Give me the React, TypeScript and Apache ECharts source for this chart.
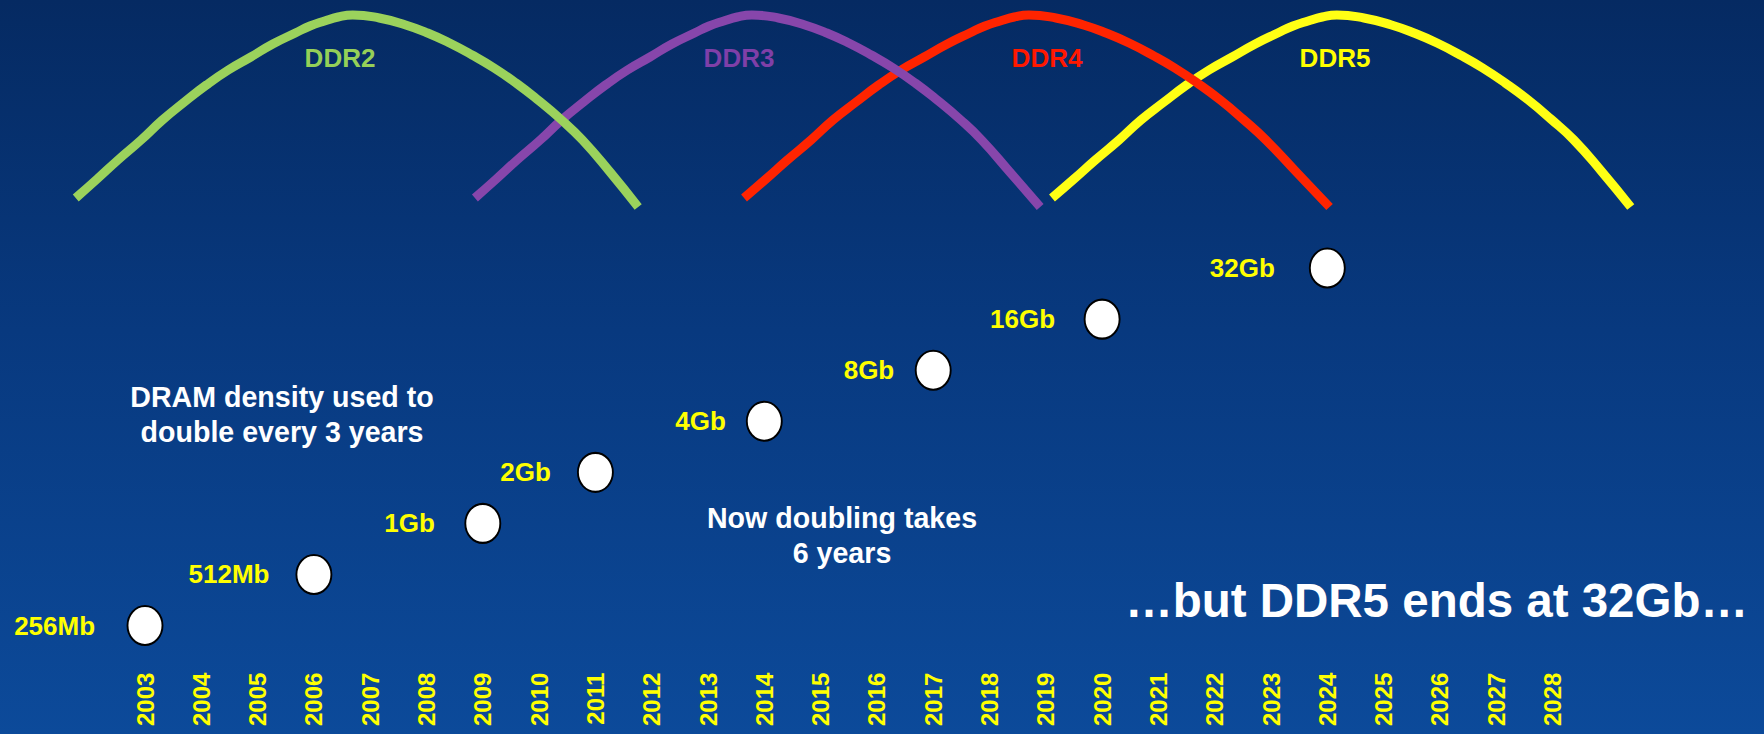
import React, { useEffect, useRef } from "react";
import * as echarts from "echarts";

// ---- data ----
const years = [
  2003, 2004, 2005, 2006, 2007, 2008, 2009, 2010, 2011, 2012, 2013, 2014, 2015,
  2016, 2017, 2018, 2019, 2020, 2021, 2022, 2023, 2024, 2025, 2026, 2027, 2028,
];

const densityYears = [2003, 2006, 2009, 2011, 2014, 2017, 2020, 2024];
const densityMb = [256, 512, 1024, 2048, 4096, 8192, 16384, 32768];
const densityLabels = ["256Mb", "512Mb", "1Gb", "2Gb", "4Gb", "8Gb", "16Gb", "32Gb"];

const generations = ["DDR2", "DDR3", "DDR4", "DDR5"];

// relative lifecycle level (0..100) along each arc
const arcShare = [
  8.5, 18, 27.5, 37.5, 47.5, 56.5, 65, 72.5, 79, 85.5, 91, 94.5, 97, 99, 100,
  98.5, 95, 91, 86, 80, 73.5, 66, 57.5, 48, 37.5, 21.5, 4,
];

const ddr2Years = [
  2001.77, 2002.15, 2002.52, 2002.93, 2003.31, 2003.7, 2004.09, 2004.48, 2004.88, 2005.27, 2005.67, 2005.93, 2006.19, 2006.43, 2006.69,
  2007.16, 2007.63, 2008.02, 2008.41, 2008.81, 2009.2, 2009.59, 2009.98, 2010.38, 2010.77, 2011.26, 2011.76,
];
const ddr3Years = [
  2008.86, 2009.24, 2009.61, 2010.02, 2010.4, 2010.79, 2011.18, 2011.57, 2011.97, 2012.36, 2012.76, 2013.02, 2013.28, 2013.52, 2013.78,
  2014.25, 2014.72, 2015.11, 2015.5, 2015.9, 2016.29, 2016.68, 2017.07, 2017.47, 2017.86, 2018.36, 2018.9,
];
const ddr4Years = [
  2013.64, 2014.03, 2014.41, 2014.83, 2015.22, 2015.63, 2016.03, 2016.43, 2016.84, 2017.25, 2017.65, 2017.92, 2018.19, 2018.44, 2018.7,
  2019.18, 2019.67, 2020.07, 2020.48, 2020.89, 2021.29, 2021.69, 2022.1, 2022.5, 2022.91, 2023.45, 2024.04,
];
const ddr5Years = [
  2019.11, 2019.5, 2019.88, 2020.3, 2020.69, 2021.1, 2021.5, 2021.9, 2022.31, 2022.72, 2023.12, 2023.39, 2023.66, 2023.91, 2024.17,
  2024.65, 2025.14, 2025.54, 2025.95, 2026.36, 2026.76, 2027.16, 2027.57, 2027.97, 2028.38, 2028.88, 2029.39,
];

const noteOld = "DRAM density used to\ndouble every 3 years";
const noteNew = "Now doubling takes\n6 years";
const noteEnd = "\u2026but DDR5 ends at 32Gb\u2026";

// ---- styling ----
const FONT = "'Liberation Sans', Arial, Helvetica, sans-serif";
const genColors = ["#9bd25c", "#8746ab", "#ff2400", "#ffff14"];
const genLabelColors = ["#95d058", "#7f3fa8", "#ff1800", "#ffff00"];
const genLabelX = [340, 739, 1047, 1335];
const genZ = [5, 4, 3, 2];
const labelGap = [31.5, 26, 29.5, 26, 20, 20.5, 28.5, 34];

const LEFT = 32.4;
const WIDTH = 1632.7;

function zip(xs: number[], ys: number[]) {
  return xs.map((x, i) => [x, ys[i]]);
}

export default function App() {
  const ref = useRef<HTMLDivElement>(null);

  useEffect(() => {
    if (!ref.current) return;
    const chart = echarts.init(ref.current, undefined, { renderer: "svg" });

    const arcs = [
      zip(ddr2Years, arcShare),
      zip(ddr3Years, arcShare),
      zip(ddr4Years, arcShare),
      zip(ddr5Years, arcShare),
    ];

    const textStyle = (text: string, size: number, color: string, align: string) => ({
      text,
      fill: color,
      font: `bold ${size}px ${FONT}`,
      fontSize: size,
      fontWeight: "bold",
      fontFamily: FONT,
      align,
      textAlign: align,
      verticalAlign: "middle",
      textVerticalAlign: "middle",
      lineHeight: 35,
    });

    const option: any = {
      animation: false,
      backgroundColor: "transparent",
      grid: [
        { left: LEFT, width: WIDTH, top: 15, height: 200, outerBoundsMode: "none", containLabel: false },
        { left: LEFT, width: WIDTH, top: 217, height: 459.6, outerBoundsMode: "none", containLabel: false },
      ],
      xAxis: [
        { type: "value", gridIndex: 0, min: 2001, max: 2030, show: false },
        {
          type: "value",
          gridIndex: 1,
          min: 2001,
          max: 2030,
          interval: 1,
          offset: -8,
          axisLine: { show: false },
          axisTick: { show: false },
          splitLine: { show: false },
          axisLabel: {
            rotate: 90,
            margin: 4,
            color: "#ffff00",
            fontSize: 24,
            fontWeight: "bold",
            fontFamily: FONT,
            showMinLabel: true,
            showMaxLabel: true,
            formatter: (v: number) => (years.indexOf(Math.round(v)) >= 0 ? String(Math.round(v)) : ""),
          },
        },
      ],
      yAxis: [
        { type: "value", gridIndex: 0, min: 0, max: 100, show: false },
        { type: "log", logBase: 2, gridIndex: 1, min: 128, max: 65536, show: false },
      ],
      series: [
        ...arcs.map((d, i) => ({
          type: "line",
          name: generations[i],
          xAxisIndex: 0,
          yAxisIndex: 0,
          data: d,
          smooth: 0.5,
          showSymbol: false,
          symbol: "none",
          clip: false,
          z: genZ[i],
          lineStyle: { color: genColors[i], width: 9, cap: "butt", join: "round" },
        })),
        {
          type: "scatter",
          name: "density",
          xAxisIndex: 1,
          yAxisIndex: 1,
          z: 10,
          data: densityYears.map((y, i) => ({
            value: [y, densityMb[i]],
            label: { distance: labelGap[i] },
          })),
          symbol: "path://M0,19.5A17.5,19.5,0,1,1,35,19.5A17.5,19.5,0,1,1,0,19.5Z",
          symbolSize: [35, 39],
          itemStyle: { color: "#ffffff", borderColor: "#000000", borderWidth: 2, opacity: 1 },
          label: {
            show: true,
            position: "left",
            distance: 26,
            formatter: (p: any) => densityLabels[p.dataIndex],
            color: "#ffff00",
            fontSize: 26,
            fontWeight: "bold",
            fontFamily: FONT,
          },
        },
      ],
      graphic: [
        ...generations.map((g, i) => ({
          type: "text",
          x: genLabelX[i],
          y: 58,
          z: 20,
          style: textStyle(g, 26, genLabelColors[i], "center"),
        })),
        { type: "text", x: 282, y: 414.5, z: 20, style: textStyle(noteOld, 28.6, "#ffffff", "center") },
        { type: "text", x: 842, y: 535, z: 20, style: textStyle(noteNew, 28.6, "#ffffff", "center") },
        { type: "text", x: 1748, y: 600, z: 20, style: textStyle(noteEnd, 47.5, "#ffffff", "right") },
      ],
    };

    chart.setOption(option);
    return () => chart.dispose();
  }, []);

  return (
    <div
      ref={ref}
      style={{
        position: "fixed",
        left: 0,
        top: 0,
        width: 1764,
        height: 734,
        background: "linear-gradient(180deg, #052a62 0%, #08397f 45%, #0c4a9a 100%)",
      }}
    />
  );
}
